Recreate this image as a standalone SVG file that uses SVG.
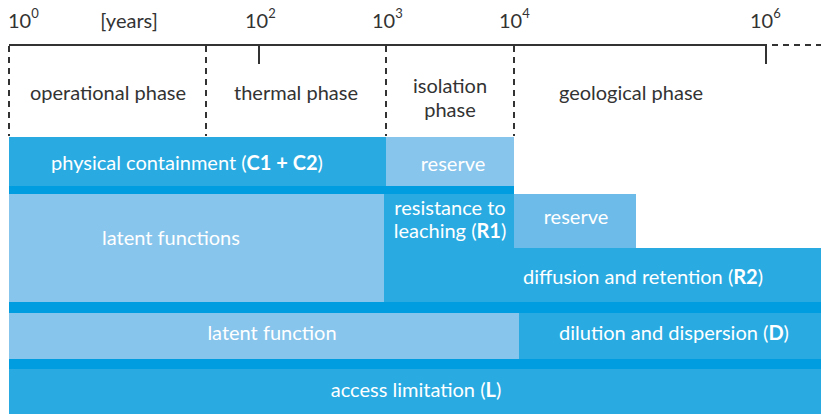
<svg xmlns="http://www.w3.org/2000/svg" width="821" height="414" viewBox="0 0 821 414">
  <style>
    text { font-family: Lato, "Open Sans", "Noto Sans", sans-serif; font-size: 20px; }
    .hdr { fill: #333333; text-anchor: middle; }
    .num { fill: #333333; }
    .sup { font-size: 13px; }
    .lbl { fill: #ffffff; text-anchor: middle; }
    .b { font-weight: bold; }
    .dark { fill: #29abe2; }
    .light { fill: #88c5ec; }
    .mid { fill: #6dbbe9; }
    .strip { fill: #009ee0; }
    .axis { stroke: #333333; stroke-width: 2; fill: none; }
    .dash { stroke: #333333; stroke-width: 2; stroke-dasharray: 6 5; fill: none; }
  </style>

  <!-- time axis -->
  <g id="axis">
    <line class="axis" x1="9" y1="45" x2="767" y2="45"/>
    <line class="dash" x1="772" y1="45" x2="821" y2="45"/>
    <line class="axis" x1="259" y1="45" x2="259" y2="64"/>
    <line class="axis" x1="766" y1="45" x2="766" y2="64"/>
    <line class="dash" x1="9" y1="46" x2="9" y2="136"/>
    <line class="dash" x1="206" y1="46" x2="206" y2="136"/>
    <line class="dash" x1="386" y1="46" x2="386" y2="136"/>
    <line class="dash" x1="514" y1="46" x2="514" y2="136"/>
    <text class="num" x="8" y="28">10<tspan class="sup" dy="-10">0</tspan></text>
    <text class="hdr" x="129" y="28">[years]</text>
    <text class="num" x="245" y="28">10<tspan class="sup" dy="-10">2</tspan></text>
    <text class="num" x="372" y="28">10<tspan class="sup" dy="-10">3</tspan></text>
    <text class="num" x="499" y="28">10<tspan class="sup" dy="-10">4</tspan></text>
    <text class="num" x="750" y="28">10<tspan class="sup" dy="-10">6</tspan></text>
  </g>

  <!-- phases -->
  <g id="phase-operational"><text class="hdr" x="108" y="100">operational phase</text></g>
  <g id="phase-thermal"><text class="hdr" x="296" y="100">thermal phase</text></g>
  <g id="phase-isolation">
    <text class="hdr" x="450" y="93">isolation</text>
    <text class="hdr" x="450" y="117">phase</text>
  </g>
  <g id="phase-geological"><text class="hdr" x="631" y="100">geological phase</text></g>

  <!-- separator strips between rows -->
  <g id="strips">
    <rect class="strip" x="9" y="186" width="505" height="8"/>
    <rect class="strip" x="9" y="302" width="812" height="11"/>
    <rect class="strip" x="9" y="359" width="812" height="10"/>
  </g>

  <!-- row 1 -->
  <g id="physical-containment">
    <rect class="dark" x="9" y="137" width="377" height="49"/>
    <text class="lbl" x="187" y="170">physical containment (<tspan class="b">C1 + C2</tspan>)</text>
  </g>
  <g id="reserve-1">
    <rect class="light" x="386" y="137" width="128" height="49"/>
    <text class="lbl" x="453" y="171">reserve</text>
  </g>

  <!-- row 2 -->
  <g id="latent-functions">
    <rect class="light" x="9" y="194" width="375" height="108"/>
    <text class="lbl" x="171" y="245">latent functions</text>
  </g>
  <g id="resistance-to-leaching">
    <rect class="dark" x="384" y="194" width="130" height="54"/>
    <text class="lbl" x="450" y="215">resistance to</text>
    <text class="lbl" x="450" y="238">leaching (<tspan class="b">R1</tspan>)</text>
  </g>
  <g id="reserve-2">
    <rect class="mid" x="514" y="194" width="122" height="54"/>
    <text class="lbl" x="576" y="224">reserve</text>
  </g>
  <g id="diffusion-and-retention">
    <rect class="dark" x="384" y="248" width="437" height="54"/>
    <text class="lbl" x="643" y="284">diffusion and retention (<tspan class="b">R2</tspan>)</text>
  </g>

  <!-- row 3 -->
  <g id="latent-function">
    <rect class="light" x="9" y="313" width="510" height="46"/>
    <text class="lbl" x="272" y="340">latent function</text>
  </g>
  <g id="dilution-and-dispersion">
    <rect class="dark" x="519" y="313" width="302" height="46"/>
    <text class="lbl" x="674" y="340">dilution and dispersion (<tspan class="b">D</tspan>)</text>
  </g>

  <!-- row 4 -->
  <g id="access-limitation">
    <rect class="dark" x="9" y="369" width="812" height="45"/>
    <text class="lbl" x="416" y="397">access limitation (<tspan class="b">L</tspan>)</text>
  </g>

  <g id="connectors"></g>
</svg>
